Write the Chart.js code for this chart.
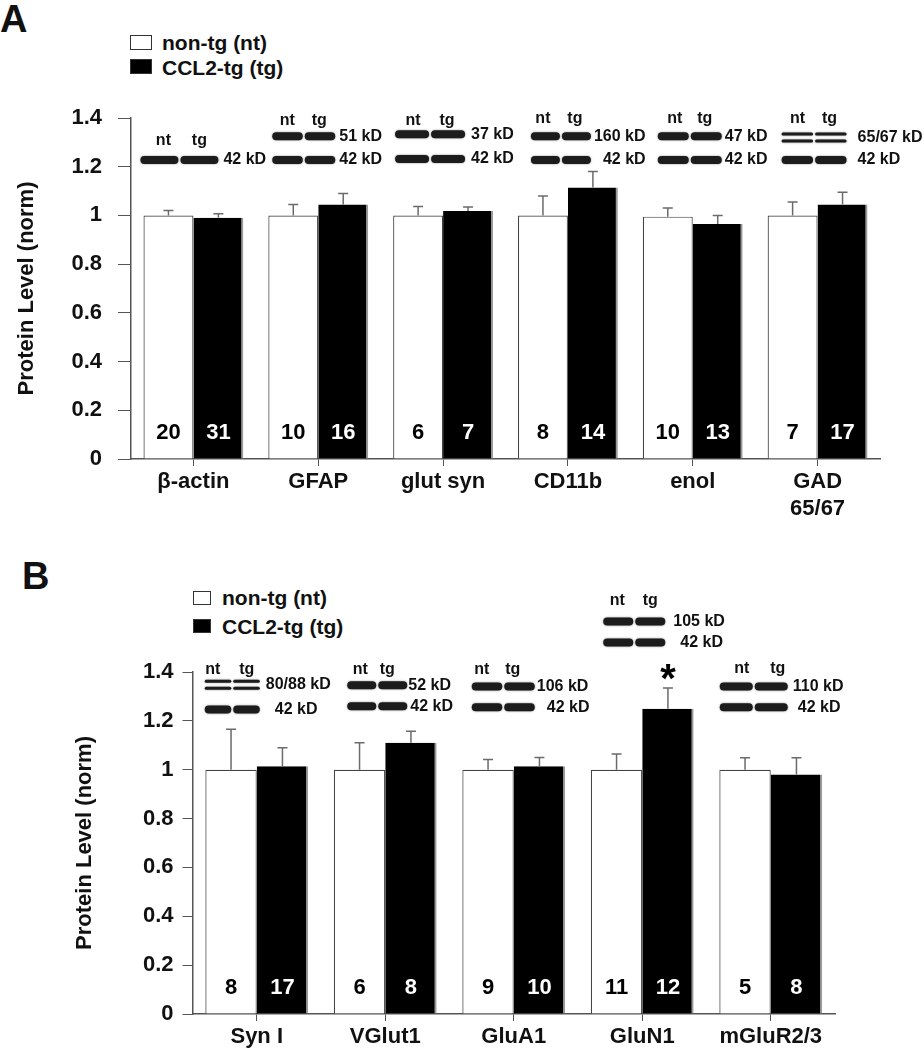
<!DOCTYPE html>
<html>
<head>
<meta charset="utf-8">
<script src="https://cdn.jsdelivr.net/npm/chart.js@4.4.1/dist/chart.umd.min.js"></script>
<style>
  body { margin: 0; background: #fff; width: 924px; height: 1050px; position: relative; overflow: hidden;
         font-family: "Liberation Sans", Arial, sans-serif; color: #111; }
  canvas { position: absolute; left: 0; }
  #chartA { top: 0; }
  #chartB { top: 520px; }
  .letter { position: absolute; font-weight: bold; font-size: 38px; line-height: 1; }
  .leg { position: absolute; font-weight: bold; font-size: 21px; line-height: 1; white-space: nowrap; }
  .box { position: absolute; border: 1.5px solid #333; box-sizing: border-box; }
</style>
</head>
<body>
<div class="letter" style="left:0;top:0">A</div>
<div class="box" style="left:130px;top:35px;width:22px;height:15px;background:#fff"></div>
<div class="leg" style="left:162px;top:32px">non-tg (nt)</div>
<div class="box" style="left:130px;top:59px;width:22px;height:15px;background:#000"></div>
<div class="leg" style="left:162px;top:57px">CCL2-tg (tg)</div>

<div class="letter" style="left:22px;top:557px">B</div>
<div class="box" style="left:193px;top:591px;width:18px;height:14px;background:#fff"></div>
<div class="leg" style="left:222px;top:587px">non-tg (nt)</div>
<div class="box" style="left:193px;top:619px;width:18px;height:14px;background:#000"></div>
<div class="leg" style="left:222px;top:616px">CCL2-tg (tg)</div>

<canvas id="chartA" width="924" height="520"></canvas>
<canvas id="chartB" width="924" height="530"></canvas>
<script>
// panel A
var catsA = ['β-actin', 'GFAP', 'glut syn', 'CD11b', 'enol', ['GAD', '65/67']];
var ntA = [1.00, 1.00, 1.00, 1.00, 0.995, 1.00];
var tgA = [0.99, 1.045, 1.018, 1.115, 0.965, 1.045];
var ntErrA = [0.02, 0.045, 0.037, 0.08, 0.035, 0.055];
var tgErrA = [0.017, 0.045, 0.017, 0.065, 0.035, 0.05];
var ntNA = [20, 10, 6, 8, 10, 7];
var tgNA = [31, 16, 7, 14, 13, 17];

// panel B
var catsB = ['Syn I', 'VGlut1', 'GluA1', 'GluN1', 'mGluR2/3'];
var ntB = [1.00, 1.00, 1.00, 1.00, 1.00];
var tgB = [1.014, 1.11, 1.014, 1.25, 0.98];
var ntErrB = [0.166, 0.11, 0.042, 0.064, 0.049];
var tgErrB = [0.076, 0.047, 0.036, 0.084, 0.069];
var ntNB = [8, 6, 9, 11, 5];
var tgNB = [17, 8, 10, 12, 8];
var sigB = ['', '', '', '*', ''];

var yTicks = [0, 0.2, 0.4, 0.6, 0.8, 1, 1.2, 1.4];

// western blot inserts, placed per category (x offsets in px from group centre, y in axis units)
var blotsA = [
  {i: 0, x: -53, w: 78, lane: [-30, 6], lab: 1.309, rows: [{v: 1.228, kd: '42 kD', tx: 30}]},
  {i: 1, x: -46, w: 63, lane: [-31, 1], lab: 1.39, rows: [{v: 1.325, kd: '51 kD', tx: 21}, {v: 1.228, kd: '42 kD', tx: 21}]},
  {i: 2, x: -48, w: 70, lane: [-30, 4], lab: 1.39, rows: [{v: 1.333, kd: '37 kD', tx: 28}, {v: 1.232, kd: '42 kD', tx: 28}]},
  {i: 3, x: -37, w: 60, lane: [-25, 7], lab: 1.398, rows: [{v: 1.325, kd: '160 kD', tx: 26}, {v: 1.228, kd: '42 kD', tx: 35}]},
  {i: 4, x: -35, w: 64, lane: [-18, 12], lab: 1.398, rows: [{v: 1.325, kd: '47 kD', tx: 32}, {v: 1.228, kd: '42 kD', tx: 32}]},
  {i: 5, x: -36, w: 65, lane: [-20, 12], lab: 1.398, rows: [{v: 1.32, kd: '65/67 kD', tx: 40, dbl: true}, {v: 1.228, kd: '42 kD', tx: 40}]}
];
var blotsB = [
  {i: 0, x: -52, w: 55, lane: [-44, -10], lab: 1.411, rows: [{v: 1.348, kd: '80/88 kD', tx: 9, dbl: true}, {v: 1.247, kd: '42 kD', tx: 18}]},
  {i: 1, x: -38, w: 60, lane: [-25, 2], lab: 1.411, rows: [{v: 1.346, kd: '52 kD', tx: 23}, {v: 1.26, kd: '42 kD', tx: 25}]},
  {i: 2, x: -42, w: 63, lane: [-32, -1], lab: 1.411, rows: [{v: 1.341, kd: '106 kD', tx: 23}, {v: 1.256, kd: '42 kD', tx: 33}]},
  {i: 3, x: -39, w: 62, lane: [-25, 8], lab: 1.693, rows: [{v: 1.607, kd: '105 kD', tx: 31}, {v: 1.521, kd: '42 kD', tx: 38}]},
  {i: 4, x: -51, w: 68, lane: [-29, 7], lab: 1.415, rows: [{v: 1.341, kd: '110 kD', tx: 22}, {v: 1.256, kd: '42 kD', tx: 27}]}
];

var FONT = '"Liberation Sans", Arial, sans-serif';
var NARROW = '"Liberation Sans Narrow", "Liberation Sans", Arial, sans-serif';

function band(ctx, x, y, w, h) {
  ctx.beginPath();
  if (ctx.roundRect) ctx.roundRect(x, y, w, h, h / 2);
  else ctx.rect(x, y, w, h);
  ctx.fill();
}

var barExtras = {
  id: 'barExtras',
  afterDatasetsDraw: function(chart) {
    var ctx = chart.ctx, ys = chart.scales.y;
    chart.data.datasets.forEach(function(ds, di) {
      var meta = chart.getDatasetMeta(di);
      meta.data.forEach(function(bar, i) {
        var top = ys.getPixelForValue(ds.data[i] + ds.errors[i]);
        ctx.save();
        ctx.strokeStyle = '#6b6b6b';
        ctx.lineWidth = 1.5;
        ctx.beginPath();
        ctx.moveTo(bar.x, bar.y);
        ctx.lineTo(bar.x, top);
        ctx.moveTo(bar.x - 5, top);
        ctx.lineTo(bar.x + 5, top);
        ctx.stroke();
        // n per group
        ctx.fillStyle = ds.textColor;
        ctx.font = 'bold 22px ' + NARROW;
        ctx.textAlign = 'center';
        ctx.textBaseline = 'middle';
        ctx.fillText(String(ds.counts[i]), bar.x, ys.getPixelForValue(0.105));
        if (ds.sig && ds.sig[i]) {
          ctx.fillStyle = '#000';
          ctx.font = 'bold 40px ' + FONT;
          ctx.textBaseline = 'alphabetic';
          ctx.fillText(ds.sig[i], bar.x, top + 4);
        }
        ctx.restore();
      });
    });
  }
};

var blotPlugin = {
  id: 'blots',
  afterDraw: function(chart, args, opts) {
    var ctx = chart.ctx, xs = chart.scales.x, ys = chart.scales.y;
    (opts.items || []).forEach(function(b) {
      var c = xs.getPixelForValue(b.i);
      var ly = ys.getPixelForValue(b.lab);
      ctx.save();
      ctx.fillStyle = '#111';
      ctx.font = 'bold 16px ' + FONT;
      ctx.textAlign = 'center';
      ctx.textBaseline = 'middle';
      ctx.fillText('nt', c + b.lane[0], ly);
      ctx.fillText('tg', c + b.lane[1], ly);
      var lw = (b.w - 2) / 2;
      b.rows.forEach(function(r) {
        var py = ys.getPixelForValue(r.v);
        ctx.fillStyle = '#1c1c1c';
        ctx.shadowColor = 'rgba(0,0,0,0.5)';
        ctx.shadowBlur = 2;
        for (var k = 0; k < 2; k++) {
          var x0 = c + b.x + k * (lw + 2);
          if (r.dbl) {
            band(ctx, x0, py - 5, lw, 3);
            band(ctx, x0, py + 2, lw, 3);
          } else {
            band(ctx, x0, py - 4, lw, 8);
          }
        }
        ctx.shadowBlur = 0;
        ctx.fillStyle = '#111';
        ctx.textAlign = 'left';
        ctx.fillText(r.kd, c + r.tx, py);
      });
      ctx.restore();
    });
  }
};

function makeChart(id, cats, nt, tg, ntErr, tgErr, ntN, tgN, sig, blots, lay) {
  return new Chart(document.getElementById(id), {
    type: 'bar',
    data: {
      labels: cats,
      datasets: [
        {
          label: 'non-tg (nt)', data: nt, errors: ntErr, counts: ntN, textColor: '#000',
          backgroundColor: '#fff', borderColor: '#444', borderWidth: 1.2,
          categoryPercentage: 0.8, barPercentage: 1.0
        },
        {
          label: 'CCL2-tg (tg)', data: tg, errors: tgErr, counts: tgN, sig: sig, textColor: '#fff',
          backgroundColor: '#000', borderColor: '#9a9a9a',
          borderWidth: {top: 0, left: 0, bottom: 0, right: 2}, borderSkipped: false,
          categoryPercentage: 0.8, barPercentage: 1.0
        }
      ]
    },
    options: {
      responsive: false,
      animation: false,
      layout: {padding: {top: lay.top, right: lay.right, left: lay.left, bottom: 0}},
      plugins: {
        legend: {display: false},
        tooltip: {enabled: false},
        blots: {items: blots}
      },
      scales: {
        x: {
          grid: {drawOnChartArea: false, drawTicks: true, tickLength: 7, color: '#555', offset: false},
          border: {color: '#555', width: 1.5},
          ticks: {color: '#111', font: {family: FONT, size: 22, weight: 'bold'}, padding: 3,
                  maxRotation: 0, autoSkip: false},
          afterFit: function(s) { s.height = lay.xh; }
        },
        y: {
          min: 0, max: 1.4,
          afterBuildTicks: function(s) { s.ticks = yTicks.map(function(v) { return {value: v}; }); },
          ticks: {color: '#111', font: {family: FONT, size: 22, weight: 'bold'}, padding: lay.tp,
                  callback: function(v) { return String(+v.toFixed(1)); }},
          grid: {drawOnChartArea: false, tickLength: lay.tl, color: '#555'},
          border: {color: '#555', width: 1.5},
          title: {display: true, text: 'Protein Level (norm)', color: '#111',
                  font: {family: FONT, size: 22, weight: 'bold'}, padding: {top: 14, bottom: 0}},
          afterFit: function(s) { s.width = lay.yw; }
        }
      }
    },
    plugins: [barExtras, blotPlugin]
  });
}

makeChart('chartA', catsA, ntA, tgA, ntErrA, tgErrA, ntNA, tgNA, null, blotsA,
  {top: 118, right: 44, left: 0, yw: 131, xh: 61, tl: 13, tp: 16});
makeChart('chartB', catsB, ntB, tgB, ntErrB, tgErrB, ntNB, tgNB, sigB, blotsB,
  {top: 152, right: 89, left: 58, yw: 134.5, xh: 36, tl: 10, tp: 9});
</script>
</body>
</html>
